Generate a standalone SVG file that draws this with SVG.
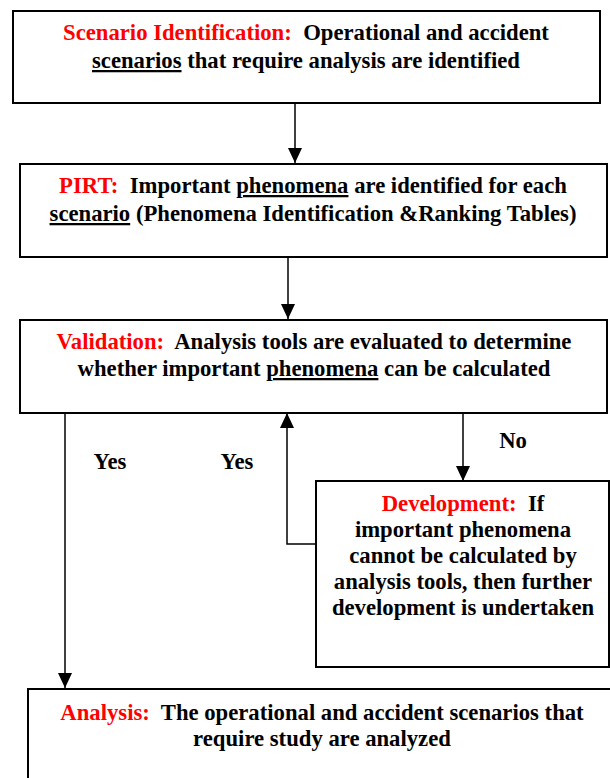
<svg xmlns="http://www.w3.org/2000/svg" width="610" height="778" viewBox="0 0 610 778">
<style>
.box{fill:#fff;stroke:#000;stroke-width:2}
text{font-family:'Liberation Serif','DejaVu Serif',serif;font-weight:700;font-size:22.7px;fill:#000;white-space:pre;text-anchor:middle}
.r{fill:#ff0000}
.u{text-decoration:underline}
.ln{stroke:#000;stroke-width:1.5;fill:none}
</style>
<defs>
<marker id="ah" viewBox="0 0 15 14" refX="15" refY="7" markerWidth="15" markerHeight="14" markerUnits="userSpaceOnUse" orient="auto">
<path d="M0,0 L15,7 L0,14 z" fill="#000"/>
</marker>
</defs>
<rect width="610" height="778" fill="#fff"/>
<g id="connectors">
<line class="ln" x1="295" y1="103" x2="295" y2="163" marker-end="url(#ah)"/>
<line class="ln" x1="288" y1="257" x2="288" y2="319" marker-end="url(#ah)"/>
<line class="ln" x1="65" y1="410" x2="65" y2="688" marker-end="url(#ah)"/>
<line class="ln" x1="463" y1="410" x2="463" y2="481" marker-end="url(#ah)"/>
<polyline class="ln" points="316,544 287,544 287,413" marker-end="url(#ah)"/>
<text x="110" y="469">Yes</text>
<text x="237" y="469">Yes</text>
<text x="513" y="448">No</text>
</g>
<g id="scenario">
<rect class="box" x="13" y="11" width="587" height="92"/>
<text x="306" y="40"><tspan class="r">Scenario Identification:</tspan>  Operational and accident</text>
<text x="306" y="68"><tspan class="u">scenarios</tspan> that require analysis are identified</text>
</g>
<g id="pirt">
<rect class="box" x="20" y="164" width="587" height="93"/>
<text x="313" y="193"><tspan class="r">PIRT:</tspan>  Important <tspan class="u">phenomena</tspan> are identified for each</text>
<text x="313" y="221"><tspan class="u">scenario</tspan> (Phenomena Identification &amp;Ranking Tables)</text>
</g>
<g id="validation">
<rect class="box" x="20" y="320" width="587" height="93"/>
<text x="314" y="349"><tspan class="r">Validation:</tspan>  Analysis tools are evaluated to determine</text>
<text x="314" y="376">whether important <tspan class="u">phenomena</tspan> can be calculated</text>
</g>
<g id="development">
<rect class="box" x="316" y="481" width="293" height="186"/>
<text x="463" y="511"><tspan class="r">Development:</tspan>  If</text>
<text x="463" y="537">important phenomena</text>
<text x="463" y="563">cannot be calculated by</text>
<text x="463" y="589">analysis tools, then further</text>
<text x="463" y="615">development is undertaken</text>
</g>
<g id="analysis">
<rect class="box" x="28" y="689" width="590" height="100"/>
<text x="322" y="720"><tspan class="r">Analysis:</tspan>  The operational and accident scenarios that</text>
<text x="322" y="746">require study are analyzed</text>
</g>
</svg>
